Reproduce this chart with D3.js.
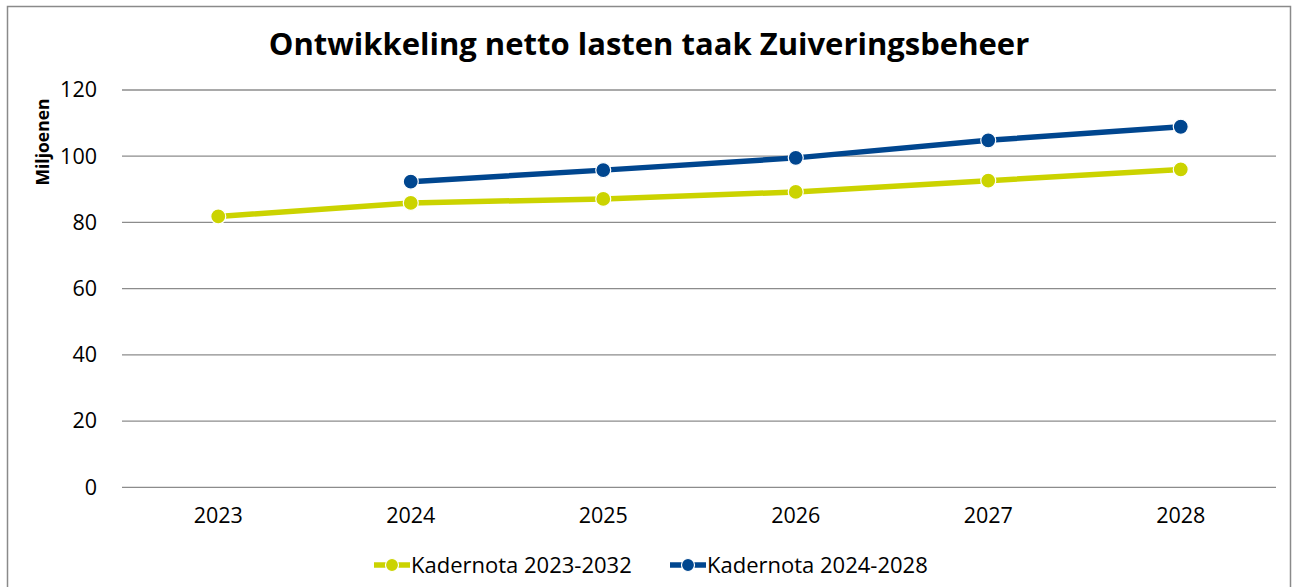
<!DOCTYPE html>
<html>
<head>
<meta charset="utf-8">
<script src="https://cdn.jsdelivr.net/npm/d3@7"></script>
<style>
  body { margin: 0; background: #fff; }
  svg { display: block; font-family: "Open Sans", sans-serif; }
</style>
</head>
<body>
<div class="chart"></div>
<script>
let years = ["2023", "2024", "2025", "2026", "2027", "2028"];
let kadernota2023 = [81.8, 85.9, 87.1, 89.2, 92.6, 96.0];
let kadernota2024 = [null, 92.3, 95.8, 99.5, 104.8, 108.9];
let yTicks = [0, 20, 40, 60, 80, 100, 120];

let seriesNames = ["Kadernota 2023-2032", "Kadernota 2024-2028"];
let seriesColors = ["#cbd300", "#00468f"];

let svgWidth = 1297;
let svgHeight = 587;

let svg = d3.select(".chart")
  .append("svg")
  .attr("width", svgWidth)
  .attr("height", svgHeight);

// chart border
svg.append("rect")
  .attr("x", 7.5)
  .attr("y", 6.5)
  .attr("width", 1283)
  .attr("height", 600)
  .attr("fill", "none")
  .attr("stroke", "#8a8a8a")
  .attr("stroke-width", 1.5);

let xScale = d3.scaleBand()
  .domain(years)
  .range([122, 1277]);

let yScale = d3.scaleLinear()
  .domain([0, 120])
  .range([487.3, 90]);

// gridlines
svg.append("g")
  .selectAll("line")
  .data(yTicks)
  .enter()
  .append("line")
  .attr("x1", 122)
  .attr("x2", 1276)
  .attr("y1", d => yScale(d))
  .attr("y2", d => yScale(d))
  .attr("stroke", "#8c8c8c")
  .attr("stroke-width", 1.3);

let leftAxis = d3.axisLeft(yScale).tickValues(yTicks).tickSize(0).tickPadding(25);
let bottomAxis = d3.axisBottom(xScale).tickSize(0).tickPadding(20);

let yAxis = svg.append("g")
  .attr("transform", "translate(122, 0)")
  .call(leftAxis);

let xAxis = svg.append("g")
  .attr("transform", "translate(0, 487.3)")
  .call(bottomAxis);

[xAxis, yAxis].forEach(function(axis) {
  axis.select(".domain").remove();
  axis.selectAll("text")
    .attr("font-family", "Open Sans, sans-serif")
    .attr("font-size", 21.5)
    .attr("fill", "#000");
});

// title
svg.append("text")
  .attr("x", 649)
  .attr("y", 55)
  .attr("text-anchor", "middle")
  .attr("font-size", 31)
  .attr("font-weight", "bold")
  .attr("fill", "#000")
  .text("Ontwikkeling netto lasten taak Zuiveringsbeheer");

// y axis title
svg.append("text")
  .attr("transform", "translate(49, 142) rotate(-90)")
  .attr("text-anchor", "middle")
  .attr("font-size", 17.5)
  .attr("font-weight", "bold")
  .attr("fill", "#000")
  .text("Miljoenen");

let allSeries = [kadernota2023, kadernota2024];

let line = d3.line()
  .defined(d => d !== null)
  .x((d, i) => xScale(years[i]) + xScale.bandwidth() / 2)
  .y(d => yScale(d));

allSeries.forEach(function(values, s) {
  let g = svg.append("g");

  g.append("path")
    .datum(values)
    .attr("d", line)
    .attr("fill", "none")
    .attr("stroke", seriesColors[s])
    .attr("stroke-width", 5.5)
    .attr("stroke-linejoin", "round");

  g.selectAll("circle")
    .data(values.map((v, i) => ({ year: years[i], value: v })).filter(d => d.value !== null))
    .enter()
    .append("circle")
    .attr("cx", d => xScale(d.year) + xScale.bandwidth() / 2)
    .attr("cy", d => yScale(d.value))
    .attr("r", 7.5)
    .attr("fill", seriesColors[s])
    .attr("stroke", "#fff")
    .attr("stroke-width", 1.2);
});

// legend
let legendX = [392, 688];
let legend = svg.append("g");

seriesNames.forEach(function(name, s) {
  let cx = legendX[s];
  legend.append("line")
    .attr("x1", cx - 18)
    .attr("x2", cx + 18)
    .attr("y1", 565)
    .attr("y2", 565)
    .attr("stroke", seriesColors[s])
    .attr("stroke-width", 5.5);

  legend.append("circle")
    .attr("cx", cx)
    .attr("cy", 565)
    .attr("r", 6.5)
    .attr("fill", seriesColors[s])
    .attr("stroke", "#fff")
    .attr("stroke-width", 1.2);

  legend.append("text")
    .attr("x", cx + 19)
    .attr("y", 565)
    .attr("dy", "0.35em")
    .attr("font-size", 22)
    .attr("fill", "#000")
    .text(name);
});
</script>
</body>
</html>
